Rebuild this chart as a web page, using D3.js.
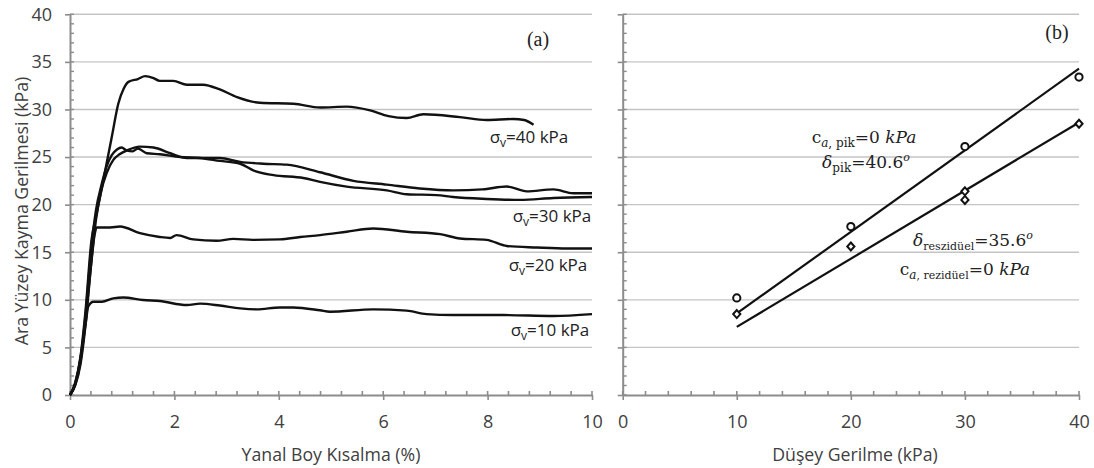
<!DOCTYPE html>
<html>
<head>
<meta charset="utf-8">
<script src="https://cdn.jsdelivr.net/npm/d3@7"></script>
<style>
  html, body { margin: 0; padding: 0; background: #fff; }
  svg { display: block; }
  .tick text { font-family: "Open Sans", sans-serif; font-size: 18px; fill: #404040; }
</style>
</head>
<body>
<svg id="chart" width="1094" height="468"></svg>
<script>
// ---- (a) shear stress vs. lateral strain, one curve per normal stress ----
const curve40 = [[0,0],[0.1,1.3],[0.2,4],[0.3,9],[0.41,16.2],[0.5,18.8],[0.6,21.5],[0.7,24.3],[0.8,27.1],[0.925,30.6],[1.03,32.2],[1.12,32.9],[1.3,33.2],[1.44,33.5],[1.6,33.3],[1.72,33.0],[1.98,33.0],[2.24,32.6],[2.55,32.6],[2.87,32.1],[3.2,31.3],[3.64,30.7],[4.28,30.6],[4.79,30.2],[5.3,30.3],[5.75,29.9],[6.1,29.3],[6.45,29.1],[6.77,29.5],[7.47,29.2],[7.98,28.9],[8.49,29.0],[8.7,28.9],[8.88,28.4]];
const curve30a = [[0,0],[0.1,1.2],[0.2,3.8],[0.3,8.5],[0.4,15],[0.5,19.5],[0.6,22],[0.7,24],[0.8,25.2],[0.9,25.8],[0.99,26.0],[1.08,25.7],[1.2,25.6],[1.3,25.9],[1.47,25.4],[1.72,25.3],[2.11,25.0],[2.49,24.9],[2.87,24.6],[3.26,24.3],[3.51,23.6],[3.9,23.1],[4.47,22.8],[4.79,22.4],[5.3,21.9],[6.07,21.5],[6.45,21.1],[7.02,21.0],[7.34,20.8],[7.98,20.6],[8.62,20.5],[9.26,20.7],[10,20.8]];
const curve30b = [[0,0],[0.1,1],[0.2,3.2],[0.3,7.5],[0.4,13.5],[0.5,18.5],[0.6,21.5],[0.7,23.3],[0.83,24.7],[0.95,25.3],[1.09,25.7],[1.34,26.1],[1.6,26.0],[1.92,25.4],[2.24,24.9],[2.87,24.9],[3.26,24.5],[3.7,24.3],[4.15,24.2],[4.79,23.4],[5.43,22.5],[6.07,22.1],[6.7,21.7],[7.34,21.5],[7.9,21.6],[8.37,21.9],[8.75,21.4],[9.26,21.6],[9.64,21.2],[10,21.2]];
const curve20 = [[0,0],[0.1,1.1],[0.2,3.5],[0.3,8],[0.4,13.5],[0.47,16.8],[0.51,17.6],[0.77,17.6],[0.96,17.7],[1.34,17.0],[1.72,16.6],[1.92,16.5],[2.04,16.8],[2.36,16.35],[2.81,16.2],[3.13,16.4],[3.5,16.3],[4.02,16.35],[4.41,16.6],[4.79,16.8],[5.3,17.15],[5.81,17.5],[6.45,17.15],[7.09,16.9],[7.47,16.45],[7.98,16.3],[8.37,15.65],[8.94,15.5],[9.52,15.4],[10,15.4]];
const curve10 = [[0,0],[0.1,1.2],[0.2,3.8],[0.3,7.5],[0.35,9.3],[0.45,9.8],[0.61,9.8],[0.83,10.15],[1.02,10.25],[1.4,9.98],[1.72,9.87],[2.24,9.45],[2.49,9.6],[2.87,9.4],[3.26,9.1],[3.58,9.0],[4.02,9.2],[4.28,9.2],[4.79,8.9],[4.98,8.75],[5.81,9.0],[6.45,8.86],[6.83,8.5],[7.34,8.4],[8.3,8.4],[9.26,8.3],[10,8.5]];
const curveLabels = ["σv=40 kPa", "σv=30 kPa", "σv=20 kPa", "σv=10 kPa"];
const strainTicks = [0, 2, 4, 6, 8, 10];
const stressTicks = [0, 5, 10, 15, 20, 25, 30, 35, 40];

// ---- (b) failure envelopes ----
const normalStress = [10, 20, 30, 40];
const peakShear = [10.2, 17.7, 26.1, 33.4];
const residualNormal = [10, 20, 30, 30, 40];
const residualShear = [8.5, 15.6, 21.4, 20.5, 28.5];
const peakAngle = 40.6;      // degrees, c_a = 0
const residualAngle = 35.6;  // degrees, c_a = 0
const normalTicks = [0, 10, 20, 30, 40];

const svg = d3.select("#chart");
const axisColor = "#8c8c8c";
const gridColor = "#c4c4c4";
const sansFont = "Open Sans, sans-serif";

const y = d3.scaleLinear().domain([0, 40]).range([395, 14.3]);
const xa = d3.scaleLinear().domain([0, 10]).range([70, 592]);
const xb = d3.scaleLinear().domain([0, 40]).range([622.7, 1079]);

function grid(x) {
  svg.append("g").selectAll("line")
    .data(stressTicks.filter(d => d > 0)).join("line")
    .attr("x1", x.range()[0]).attr("x2", x.range()[1])
    .attr("y1", d => y(d)).attr("y2", d => y(d))
    .attr("stroke", gridColor).attr("stroke-width", 1.4);
}

function styleAxis(g) {
  g.select(".domain").attr("stroke", axisColor).attr("stroke-width", 2);
  g.selectAll(".tick line").attr("stroke", axisColor).attr("stroke-width", 1.6);
}

function xAxis(x, ticks, minorStep) {
  const g = svg.append("g").attr("transform", `translate(0,${y(0)})`)
    .call(d3.axisBottom(x).tickValues(ticks).tickSize(5).tickSizeOuter(0).tickPadding(15));
  styleAxis(g);
  const [a, b] = x.domain();
  g.append("g").selectAll("line")
    .data(d3.range(a, b + minorStep / 2, minorStep)).join("line")
    .attr("x1", d => x(d)).attr("x2", d => x(d))
    .attr("y1", 0).attr("y2", -4)
    .attr("stroke", axisColor).attr("stroke-width", 1.6);
}

function yAxis(x, withLabels) {
  const ax = d3.axisLeft(y).tickValues(stressTicks).tickSize(5).tickSizeOuter(0).tickPadding(13);
  if (!withLabels) ax.tickFormat("");
  const g = svg.append("g").attr("transform", `translate(${x.range()[0]},0)`).call(ax);
  styleAxis(g);
  g.append("g").selectAll("line")
    .data(d3.range(0, 41, 1)).join("line")
    .attr("x1", 0).attr("x2", 4)
    .attr("y1", d => y(d)).attr("y2", d => y(d))
    .attr("stroke", axisColor).attr("stroke-width", 1.4);
}

// panel (a)
grid(xa);
yAxis(xa, true);
xAxis(xa, strainTicks, 0.4);

const line = d3.line().x(d => xa(d[0])).y(d => y(d[1])).curve(d3.curveMonotoneX);
[curve10, curve20, curve30a, curve30b, curve40].forEach(c => {
  svg.append("path").datum(c).attr("d", line)
    .attr("fill", "none").attr("stroke", "#111").attr("stroke-width", 2.4)
    .attr("stroke-linejoin", "round");
});

// labels for each normal stress level
const labelPos = [[529, 143], [552, 222], [548, 271], [550, 336]];
curveLabels.forEach((t, i) => {
  const txt = svg.append("text")
    .attr("x", labelPos[i][0]).attr("y", labelPos[i][1])
    .attr("text-anchor", "middle")
    .attr("font-family", sansFont).attr("font-size", 17).attr("fill", "#222");
  txt.append("tspan").text("σ");
  txt.append("tspan").attr("font-size", 12).attr("dy", 4).text("v");
  txt.append("tspan").attr("dy", -4).text(t.slice(2));
});

svg.append("text").attr("x", 538).attr("y", 46).attr("text-anchor", "middle")
  .attr("font-family", "Liberation Serif, serif").attr("font-size", 20).attr("fill", "#222").text("(a)");

// panel (b)
grid(xb);
yAxis(xb, false);
xAxis(xb, normalTicks, 2);

function envelope(angle) {
  const k = Math.tan(angle * Math.PI / 180);
  svg.append("line")
    .attr("x1", xb(10)).attr("y1", y(10 * k))
    .attr("x2", xb(40)).attr("y2", y(40 * k))
    .attr("stroke", "#111").attr("stroke-width", 2.2);
}
envelope(peakAngle);
envelope(residualAngle);

svg.append("g").selectAll("circle")
  .data(normalStress.map((d, i) => [d, peakShear[i]])).join("circle")
  .attr("cx", d => xb(d[0])).attr("cy", d => y(d[1])).attr("r", 3.6)
  .attr("fill", "#fff").attr("stroke", "#111").attr("stroke-width", 2);

svg.append("g").selectAll("path")
  .data(residualNormal.map((d, i) => [d, residualShear[i]])).join("path")
  .attr("transform", d => `translate(${xb(d[0])},${y(d[1])})`)
  .attr("d", "M0,-4L3.6,0L0,4L-3.6,0Z")
  .attr("fill", "#fff").attr("stroke", "#111").attr("stroke-width", 2);

// envelope annotations
function annot(cx, by, parts) {
  const t = svg.append("text").attr("x", cx).attr("y", by).attr("text-anchor", "middle")
    .attr("font-family", "DejaVu Serif, serif").attr("font-size", 17).attr("fill", "#222");
  let shift = 0;
  parts.forEach(p => {
    const s = t.append("tspan").text(p.t);
    if (p.it) s.attr("font-style", "italic");
    if (p.size) s.attr("font-size", p.size);
    const target = p.sub ? 4 : p.sup ? -7 : 0;
    if (target !== shift) { s.attr("dy", target - shift); shift = target; }
  });
}
annot(864, 143, [
  { t: "c" }, { t: "a", it: true, sub: true, size: 12 }, { t: ", pik", sub: true, size: 12 },
  { t: "=0 " }, { t: "kPa", it: true }
]);
annot(866, 168, [
  { t: "δ", it: true }, { t: "pik", sub: true, size: 12 }, { t: "=40.6" },
  { t: "o", it: true, sup: true, size: 11 }
]);
annot(973, 246, [
  { t: "δ", it: true }, { t: "reszidüel", sub: true, size: 11 }, { t: "=35.6" },
  { t: "o", it: true, sup: true, size: 11 }
]);
annot(965, 275, [
  { t: "c" }, { t: "a", it: true, sub: true, size: 12 }, { t: ", rezidüel", sub: true, size: 11 },
  { t: "=0 " }, { t: "kPa", it: true }
]);

svg.append("text").attr("x", 1057).attr("y", 39).attr("text-anchor", "middle")
  .attr("font-family", "Liberation Serif, serif").attr("font-size", 20).attr("fill", "#222").text("(b)");

// axis titles
svg.append("text").attr("x", 331).attr("y", 461).attr("text-anchor", "middle")
  .attr("font-family", sansFont).attr("font-size", 17.7).attr("fill", "#404040")
  .text("Yanal Boy Kısalma (%)");
svg.append("text").attr("x", 855).attr("y", 461).attr("text-anchor", "middle")
  .attr("font-family", sansFont).attr("font-size", 17.7).attr("fill", "#404040")
  .text("Düşey Gerilme (kPa)");
svg.append("text").attr("transform", "translate(28,211) rotate(-90)").attr("text-anchor", "middle")
  .attr("font-family", sansFont).attr("font-size", 17.7).attr("fill", "#404040")
  .text("Ara Yüzey Kayma Gerilmesi (kPa)");
</script>
</body>
</html>
